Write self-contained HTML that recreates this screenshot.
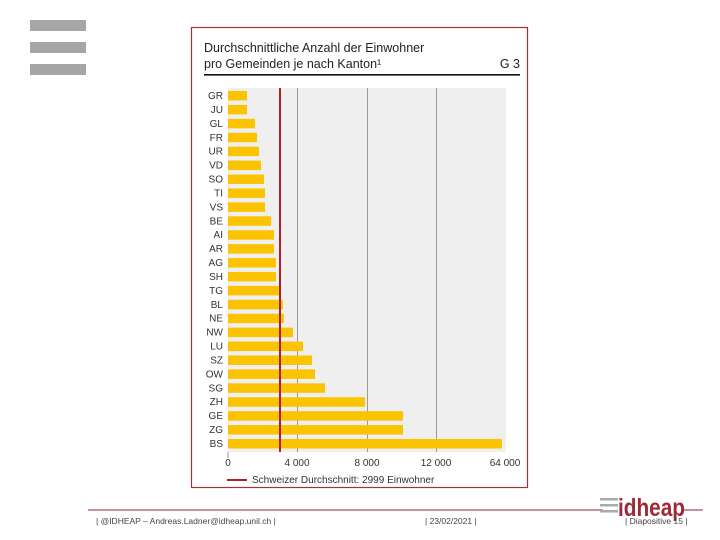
<!DOCTYPE html>
<html><head><meta charset="utf-8"><style>
body{margin:0;width:720px;height:540px;background:#fff;overflow:hidden}
svg{display:block}
text{font-family:"Liberation Sans",sans-serif}
</style></head><body>
<svg width="720" height="540" viewBox="0 0 720 540">
<rect x="30" y="20" width="56" height="11" fill="#a6a6a8"/>
<rect x="30" y="42" width="56" height="11" fill="#a6a6a8"/>
<rect x="30" y="64" width="56" height="11" fill="#a6a6a8"/>
<rect x="191.5" y="27.5" width="336" height="460" fill="#fff" stroke="#a3303a" stroke-width="1.2"/>
<text x="204" y="52" font-size="12.5" fill="#222">Durchschnittliche Anzahl der Einwohner</text>
<text x="204" y="68" font-size="12.5" fill="#222">pro Gemeinden je nach Kanton¹</text>
<text x="520" y="68" font-size="12.5" fill="#222" text-anchor="end">G 3</text>
<rect x="204" y="74" width="316" height="1.6" fill="#111"/>
<rect x="228" y="88" width="278" height="364" fill="#efefef"/>
<g stroke="#999" stroke-width="1"><line x1="297.5" y1="88" x2="297.5" y2="452"/><line x1="367.5" y1="88" x2="367.5" y2="452"/><line x1="436.5" y1="88" x2="436.5" y2="452"/></g>
<g fill="#fcc300" id="bars"></g>
<g font-size="10" fill="#333" text-anchor="end" id="labels"></g>
<rect x="279" y="88" width="2" height="364" fill="#b01e2a"/>
<line x1="228" y1="452" x2="228" y2="458" stroke="#999"/>
<g font-size="10" fill="#333" text-anchor="middle">
<text x="228" y="466">0</text><text x="297" y="466">4 000</text><text x="367" y="466">8 000</text><text x="436" y="466">12 000</text><text x="505" y="466">64 000</text></g>
<line x1="227" y1="480" x2="247" y2="480" stroke="#b01e2a" stroke-width="2"/>
<text x="252" y="483" font-size="10" fill="#333">Schweizer Durchschnitt: 2999 Einwohner</text>
<line x1="88" y1="510" x2="603" y2="510" stroke="#8b2a32" stroke-width="1"/>
<line x1="683" y1="510" x2="703" y2="510" stroke="#8b2a32" stroke-width="1"/>
<g fill="#aaa"><rect x="600" y="498" width="18" height="2.5"/><rect x="600" y="504" width="18" height="2.5"/><rect x="600" y="510" width="18" height="2.5"/></g>
<text x="618" y="516" font-size="25" font-weight="bold" fill="#9e2a35" textLength="67" lengthAdjust="spacingAndGlyphs">idheap</text>
<g font-size="8.5" fill="#444">
<text x="96" y="524">| @IDHEAP – Andreas.Ladner@idheap.unil.ch |</text>
<text x="425" y="524">| 23/02/2021 |</text>
<text x="625" y="524">| Diapositive 15 |</text></g>
</svg>
<script>
var d=[["GR",247],["JU",247],["GL",255],["FR",257],["UR",259],["VD",261],["SO",264],["TI",265],["VS",265],["BE",271],["AI",274],["AR",274],["AG",276],["SH",276],["TG",280],["BL",283],["NE",284],["NW",293],["LU",303],["SZ",312],["OW",315],["SG",325],["ZH",365],["GE",403],["ZG",403],["BS",502]];
var ns="http://www.w3.org/2000/svg",b=document.getElementById("bars"),l=document.getElementById("labels");
d.forEach(function(e,i){var cy=95.5+i*13.92;
var r=document.createElementNS(ns,"rect");r.setAttribute("x",228);r.setAttribute("y",cy-4.5);r.setAttribute("width",e[1]-228);r.setAttribute("height",9.5);b.appendChild(r);
var t=document.createElementNS(ns,"text");t.setAttribute("x",223);t.setAttribute("y",cy+3.5);t.textContent=e[0];l.appendChild(t);});
</script>
</body></html>
